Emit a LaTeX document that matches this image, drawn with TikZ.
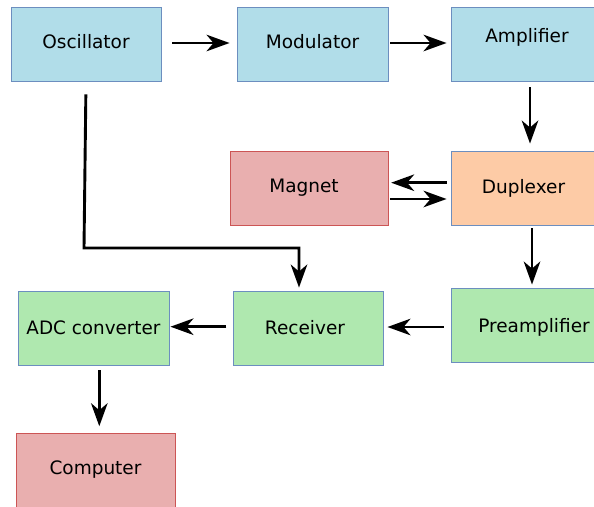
\documentclass[tikz,border=0pt]{standalone}
\usepackage{fontspec}
\setmainfont{DejaVu Sans}
\usetikzlibrary{arrows.meta}
\definecolor{bfill}{HTML}{B1DDE9}
\definecolor{gfill}{HTML}{AFE8AF}
\definecolor{rfill}{HTML}{E9AFAF}
\definecolor{ofill}{HTML}{FDCBA6}
\definecolor{bline}{HTML}{6C8EBF}
\definecolor{rline}{HTML}{CC5555}
\newcommand{\boxfont}{\fontsize{18.5}{22}\selectfont}
\tikzset{
  blockbox/.style={draw=bline, line width=0.9pt, inner sep=0pt, minimum height=74pt,
    font=\boxfont},
  bluebox/.style={blockbox, fill=bfill},
  greenbox/.style={blockbox, fill=gfill},
  redbox/.style={blockbox, fill=rfill, draw=rline},
  orangebox/.style={blockbox, fill=ofill},
  arr/.style={line width=2.9pt, -{Stealth[length=23pt,width=16.5pt,inset=7pt]}}
}
\begin{document}
\begin{tikzpicture}[x=1pt,y=-1pt]
\useasboundingbox (0,0) rectangle (594,506);
\clip (0,0) rectangle (594,506);
\node[bluebox, minimum width=150pt] (osc) at (86,44) {\raisebox{2pt}[\height][\depth]{Oscillator}};
\node[bluebox, minimum width=151pt] (mod) at (312.5,44) {\raisebox{2pt}[\height][\depth]{Modulator}};
\node[bluebox, minimum width=152pt] (amp) at (527,44) {\raisebox{7pt}[\height][\depth]{Amplifier}};
\node[redbox, minimum width=158pt] (mag) at (309,188) {\hspace*{-10pt}Magnet};
\node[orangebox, minimum width=145pt] (dup) at (523.5,188) {Duplexer};
\node[greenbox, minimum width=166pt] (pre) at (534,325) {\raisebox{-2pt}[\height][\depth]{Preamplifier}};
\node[greenbox, minimum width=150pt] (rec) at (308,328) {\hspace*{-6pt}Receiver};
\node[greenbox, minimum width=151pt] (adc) at (93.5,328) {\resizebox{134pt}{\height}{\boxfont ADC converter}};
\node[redbox, minimum width=159pt] (comp) at (95.5,470) {Computer};
\coordinate (bend) at (84,248);

\draw[arr, shorten <=11pt, shorten >=7pt] ([yshift=1pt]osc.east) -- ([yshift=1pt]mod.west);
\draw[arr, shorten <=2pt, shorten >=4pt] ([yshift=1pt]mod.east) -- ([yshift=1pt]amp.west);
\draw[arr, shorten <=6pt, shorten >=7pt] ([xshift=3pt]amp.south) -- ([xshift=3pt]amp.south |- dup.north);
\draw[arr, shorten <=4pt, shorten >=2.7pt] ([yshift=5.3pt]dup.west) -- ([yshift=5.3pt]mag.east);
\draw[arr, shorten <=2pt, shorten >=4pt] ([yshift=-11pt]mag.east) -- ([yshift=-11pt]dup.west);
\draw[arr, shorten <=3pt, shorten >=3pt] ([xshift=8.5pt]dup.south) -- ([xshift=8.5pt]dup.south |- pre.north);
\draw[arr, shorten <=7pt, shorten >=4pt] ([yshift=-2pt]pre.west) -- ([yshift=-2pt]pre.west -| rec.east);
\draw[arr, shorten <=6.3pt, shorten >=1pt] ([yshift=1.3pt]rec.west) -- ([yshift=1.3pt]adc.east);
\draw[arr, shorten <=5pt, shorten >=6.3pt] ([xshift=5.8pt]adc.south) -- ([xshift=5.8pt]adc.south |- comp.north);
\draw[arr, shorten <=13pt, shorten >=3pt] (osc.south) -- (bend) -| ([xshift=-9pt]rec.north);
\end{tikzpicture}
\end{document}
